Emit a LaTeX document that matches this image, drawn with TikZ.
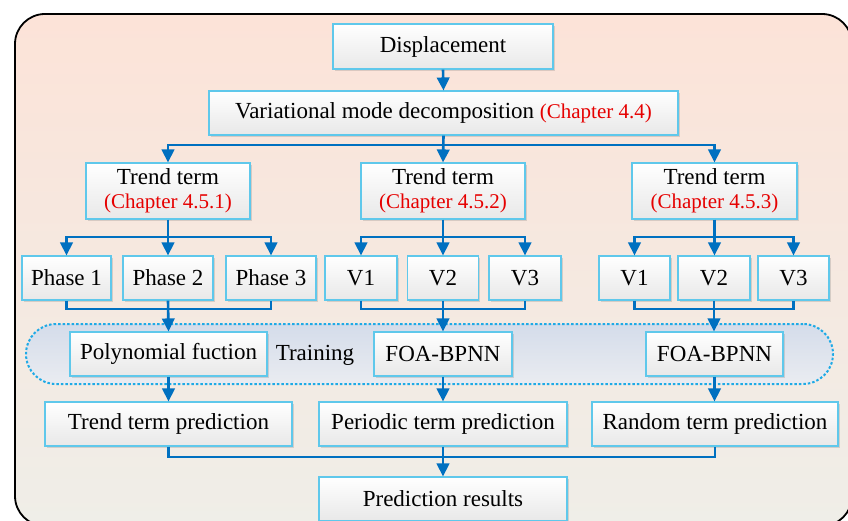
\documentclass[tikz,border=0pt]{standalone}
\usepackage{fontspec}
\setmainfont{Liberation Serif}
\usetikzlibrary{arrows.meta,shadows}

\definecolor{bgtop}{RGB}{252,227,216}
\definecolor{bgmid}{RGB}{247,236,227}
\definecolor{bgbot}{RGB}{239,238,232}
\definecolor{boxline}{RGB}{95,200,235}
\definecolor{boxlow}{RGB}{232,232,232}
\definecolor{flow}{RGB}{0,112,192}
\definecolor{chap}{RGB}{230,0,0}
\definecolor{traintop}{RGB}{212,220,234}
\definecolor{trainbot}{RGB}{234,236,241}
\definecolor{trainline}{RGB}{30,170,230}

\newcommand{\chap}[1]{{\color{chap}\fontsize{21}{23}\selectfont #1}}

\tikzset{
  box/.style={draw=boxline, line width=1.1pt, top color=white, bottom color=boxlow,
    inner sep=0pt, align=center, font=\fontsize{23}{23}\selectfont,
    drop shadow={shadow xshift=1.6pt, shadow yshift=-1.6pt, opacity=0.22, fill=black!60}},
  link/.style={draw=flow, line width=2.6pt},
  arr/.style={link, -{Triangle[width=12.5pt,length=13pt]}},
}

\begin{document}
\begin{tikzpicture}[x=1pt,y=-1pt]
\useasboundingbox (0,0) rectangle (848,521);

% outer rounded frame with soft vertical gradient
\draw[line width=1.8pt, rounded corners=30pt, top color=bgtop, middle color=bgmid, bottom color=bgbot]
  (15,14) rectangle (852,526);

% dashed training band
\node[draw=trainline, line width=2pt, dash pattern=on 2.5pt off 2pt, rounded corners=30pt,
      top color=traintop, bottom color=trainbot, minimum width=807pt, minimum height=60pt,
      inner sep=0pt] (band) at (429.5,354) {};

% top of the tree
\node[box, minimum width=220pt, minimum height=45pt] (disp) at (443,46.5) {Displacement};
\node[box, minimum width=469pt, minimum height=44pt] (vmd) at (443.5,113)
  {Variational mode decomposition \chap{(Chapter 4.4)}};

% three term boxes
\node[box, minimum width=164pt, minimum height=56pt] (t1) at (168,191)
  {Trend term\\[1.5pt]\chap{(Chapter 4.5.1)}};
\node[box, minimum width=164pt, minimum height=56pt] (t2) at (443,191)
  {Trend term\\[1.5pt]\chap{(Chapter 4.5.2)}};
\node[box, minimum width=165pt, minimum height=56pt] (t3) at (714.5,191)
  {Trend term\\[1.5pt]\chap{(Chapter 4.5.3)}};

% sub-series boxes
\node[box, minimum width=89pt, minimum height=44pt] (p1) at (66.5,278) {Phase 1};
\node[box, minimum width=90pt, minimum height=44pt] (p2) at (168,278) {Phase 2};
\node[box, minimum width=90pt, minimum height=44pt] (p3) at (271,278) {Phase 3};
\node[box, minimum width=72pt, minimum height=44pt] (m1) at (361,278) {V1};
\node[box, minimum width=71pt, minimum height=44pt] (m2) at (443,278) {V2};
\node[box, minimum width=72pt, minimum height=44pt] (m3) at (525,278) {V3};
\node[box, minimum width=71pt, minimum height=44pt] (r1) at (634.5,278) {V1};
\node[box, minimum width=72pt, minimum height=44pt] (r2) at (714,278) {V2};
\node[box, minimum width=71pt, minimum height=44pt] (r3) at (793.5,278) {V3};

% models inside the training band
\node[box, minimum width=197pt, minimum height=44pt] (poly) at (168.5,354) {Polynomial fuction};
\node[font=\fontsize{23}{23}\selectfont, inner sep=0pt] (train) at (315,355) {Training};
\node[box, minimum width=138pt, minimum height=44pt] (f1) at (443,354) {FOA-BPNN};
\node[box, minimum width=137pt, minimum height=44pt] (f2) at (714.5,354) {FOA-BPNN};

% predictions
\node[box, minimum width=247pt, minimum height=44pt] (tp) at (168.5,424) {Trend term prediction};
\node[box, minimum width=248pt, minimum height=44pt] (pp) at (443,424) {Periodic term prediction};
\node[box, minimum width=246pt, minimum height=44pt] (rp) at (715,424) {Random term prediction};
\node[box, minimum width=248pt, minimum height=44pt] (res) at (443,499) {Prediction results};

% bus levels
\coordinate (bA) at (0,145);
\coordinate (bB) at (0,237);
\coordinate (bC) at (0,309);
\coordinate (bD) at (0,457);

% connectors
\draw[arr] (disp.south) -- (vmd.north);
\draw[arr] (vmd.south) -- (t2.north);
\draw[arr] (vmd.south |- bA) -| (t1.north);
\draw[arr] (vmd.south |- bA) -| (t3.north);

\draw[arr] (t1.south) -- (p2.north);
\draw[arr] (t1.south |- bB) -| (p1.north);
\draw[arr] (t1.south |- bB) -| (p3.north);
\draw[arr] (t2.south) -- (m2.north);
\draw[arr] (t2.south |- bB) -| (m1.north);
\draw[arr] (t2.south |- bB) -| (m3.north);
\draw[arr] (t3.south) -- (t3.south |- r2.north);
\draw[arr] (t3.south |- bB) -| (r1.north);
\draw[arr] (t3.south |- bB) -| (r3.north);

\draw[link] (p1.south) |- (p3.south |- bC) -- (p3.south);
\draw[arr] (p2.south) -- (poly.north);
\draw[link] (m1.south) |- (m3.south |- bC) -- (m3.south);
\draw[arr] (m2.south) -- (f1.north);
\draw[link] (r1.south) |- (r3.south |- bC) -- (r3.south);
\draw[arr] (r2.south) -- (r2.south |- f2.north);

\draw[arr] (poly.south) -- (poly.south |- tp.north);
\draw[arr] (f1.south) -- (pp.north);
\draw[arr] (f2.south) -- (f2.south |- rp.north);

\draw[link] (tp.south) |- (rp.south |- bD) -- (rp.south);
\draw[arr] (pp.south) -- (res.north);
\end{tikzpicture}
\end{document}
